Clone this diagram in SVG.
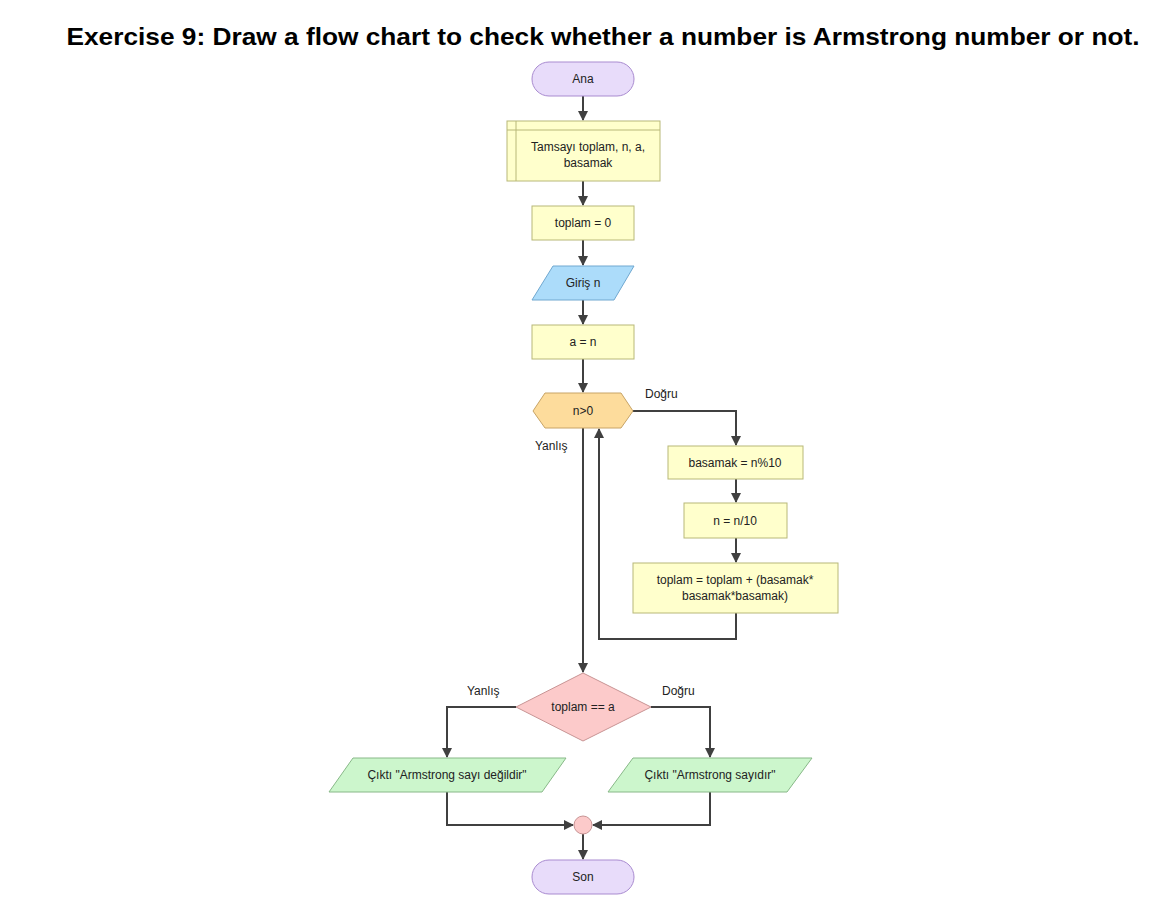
<svg xmlns="http://www.w3.org/2000/svg" width="1162" height="903" viewBox="0 0 1162 903">
<style>
.t{font-family:"Liberation Sans",Arial,sans-serif;font-size:12px;fill:#222;text-anchor:middle;dominant-baseline:central}
.lbl{font-family:"Liberation Sans",Arial,sans-serif;font-size:12px;fill:#222;dominant-baseline:central}
.term{fill:#e8dcfa;stroke:#a98bd0;stroke-width:1}
.proc{fill:#ffffcc;stroke:#b8b878;stroke-width:1}
.inp{fill:#acdcfa;stroke:#70a8d0;stroke-width:1}
.hex{fill:#fddc9c;stroke:#c8a466;stroke-width:1}
.dec{fill:#fccaca;stroke:#c89494;stroke-width:1}
.out{fill:#ccf6cc;stroke:#88b888;stroke-width:1}
.con{fill:none;stroke:#404040;stroke-width:2}
</style>
<defs>
<marker id="ah" markerWidth="10" markerHeight="10" refX="9" refY="5" orient="auto" markerUnits="userSpaceOnUse">
<path d="M0,0 L10,5 L0,10 z" fill="#404040"/>
</marker>
</defs>
<rect width="1162" height="903" fill="#ffffff"/>
<text x="603" y="45" font-family="Liberation Sans,Arial,sans-serif" font-weight="bold" font-size="24" text-anchor="middle" textLength="1073" lengthAdjust="spacingAndGlyphs" fill="#000">Exercise 9: Draw a flow chart to check whether a number is Armstrong number or not.</text>

<g id="connectors">
<path class="con" d="M583,96 V120" marker-end="url(#ah)"/>
<path class="con" d="M583,181 V205" marker-end="url(#ah)"/>
<path class="con" d="M583,240 V265" marker-end="url(#ah)"/>
<path class="con" d="M583,300 V324" marker-end="url(#ah)"/>
<path class="con" d="M583,359 V392" marker-end="url(#ah)"/>
<path class="con" d="M633,411 H736 V445" marker-end="url(#ah)"/>
<path class="con" d="M736,479 V502" marker-end="url(#ah)"/>
<path class="con" d="M736,538 V562" marker-end="url(#ah)"/>
<path class="con" d="M736,613 V639 H599 V429" marker-end="url(#ah)"/>
<path class="con" d="M583,428 V672" marker-end="url(#ah)"/>
<path class="con" d="M516,707 H447 V757" marker-end="url(#ah)"/>
<path class="con" d="M651,707 H710 V757" marker-end="url(#ah)"/>
<path class="con" d="M447,792 V825 H573" marker-end="url(#ah)"/>
<path class="con" d="M710,792 V825 H593" marker-end="url(#ah)"/>
<path class="con" d="M583,834 V859" marker-end="url(#ah)"/>
<text class="lbl" x="645" y="394">Doğru</text>
<text class="lbl" x="535" y="446">Yanlış</text>
<text class="lbl" x="467" y="691">Yanlış</text>
<text class="lbl" x="662" y="691">Doğru</text>
</g>

<g id="ana">
<rect class="term" x="532" y="62" width="102" height="34" rx="17"/>
<text class="t" x="583" y="79">Ana</text>
</g>
<g id="decl">
<rect class="proc" x="507" y="121" width="153" height="60"/>
<path d="M516,121 V181 M507,130 H660" stroke="#b8b878" stroke-width="1" fill="none"/>
<text class="t" x="588" y="147">Tamsayı toplam, n, a,</text>
<text class="t" x="588" y="163">basamak</text>
</g>
<g id="init">
<rect class="proc" x="532" y="206" width="102" height="34"/>
<text class="t" x="583" y="223">toplam = 0</text>
</g>
<g id="input">
<polygon class="inp" points="553,266 634,266 614,300 532,300"/>
<text class="t" x="583" y="283">Giriş n</text>
</g>
<g id="assign">
<rect class="proc" x="532" y="325" width="102" height="34"/>
<text class="t" x="583" y="342">a = n</text>
</g>
<g id="loop">
<polygon class="hex" points="533,411 545,393 621,393 633,411 621,428 545,428"/>
<text class="t" x="583" y="411">n&gt;0</text>
</g>
<g id="digit">
<rect class="proc" x="668" y="446" width="135" height="33"/>
<text class="t" x="735" y="463">basamak = n%10</text>
</g>
<g id="div">
<rect class="proc" x="684" y="503" width="103" height="35"/>
<text class="t" x="735" y="521">n = n/10</text>
</g>
<g id="sum">
<rect class="proc" x="633" y="563" width="205" height="50"/>
<text class="t" x="735" y="580">toplam = toplam + (basamak*</text>
<text class="t" x="735" y="596">basamak*basamak)</text>
</g>
<g id="check">
<polygon class="dec" points="583,673 651,707 583,741 516,707"/>
<text class="t" x="583" y="707">toplam == a</text>
</g>
<g id="outno">
<polygon class="out" points="353,758 566,758 542,792 329,792"/>
<text class="t" x="447" y="775">Çıktı "Armstrong sayı değildir"</text>
</g>
<g id="outyes">
<polygon class="out" points="633,758 812,758 787,792 608,792"/>
<text class="t" x="710" y="775">Çıktı "Armstrong sayıdır"</text>
</g>
<g id="merge">
<circle cx="583" cy="825" r="9" fill="#fccaca" stroke="#c89494" stroke-width="1"/>
</g>
<g id="son">
<rect class="term" x="532" y="860" width="102" height="34" rx="17"/>
<text class="t" x="583" y="877">Son</text>
</g>
</svg>
